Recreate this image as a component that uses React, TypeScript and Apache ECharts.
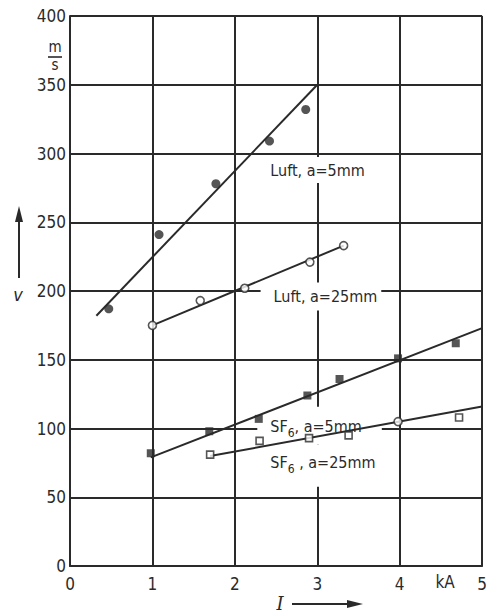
import React, { useEffect, useRef } from "react";
import * as echarts from "echarts";

// ---- data ----
const xTicks = [0, 1, 2, 3, 4, 5];
const yTicks = [0, 50, 100, 150, 200, 250, 300, 350, 400];

const luft5Points = [[0.47, 187], [1.08, 241], [1.77, 278], [2.42, 309], [2.86, 332]];
const luft25Points = [[1.0, 175], [1.58, 193], [2.12, 202], [2.91, 221], [3.32, 233]];
const sf5Points = [[0.98, 82], [1.69, 98], [2.29, 107], [2.88, 124], [3.27, 136], [3.98, 151], [4.68, 162]];
const sf25Points = [[1.7, 81], [2.3, 91], [2.9, 93], [3.38, 95], [4.72, 108]];
const sf25CirclePoints = [[3.98, 105]];

const luft5Fit = [[0.32, 182], [3.0, 350]];
const luft25Fit = [[1.0, 175], [3.32, 233]];
const sf5Fit = [[0.98, 79], [5.0, 173]];
const sf25Fit = [[1.7, 80], [5.0, 116]];

// label anchors (data coords: left edge, vertical centre)
const labelTexts = ["Luft, a=5mm", "Luft, a=25mm", "SF{s|6}, a=5mm", "SF{s|6} , a=25mm"];
const labelAnchors = [[2.43, 288], [2.47, 196], [2.43, 102], [2.43, 73]];

const FONT = "'DejaVu Sans Condensed', 'Liberation Sans Narrow', 'DejaVu Sans', sans-serif";
const INK = "#2a2a2a";

export default function App() {
  const ref = useRef<HTMLDivElement>(null);
  useEffect(() => {
    if (!ref.current) return;
    const chart = echarts.init(ref.current, undefined, { renderer: "svg" });
    const lineSeries = (data: number[][]) => ({
      type: "line",
      data,
      symbol: "none",
      lineStyle: { color: INK, width: 2 },
      z: 3,
    });
    const scatter = (data: number[][], symbol: string, size: number, filled: boolean) => ({
      type: "scatter",
      data,
      symbol,
      symbolSize: size,
      itemStyle: filled
        ? { color: INK, borderColor: INK, borderWidth: 0 }
        : { color: "#fff", borderColor: INK, borderWidth: 1.6 },
      z: 4,
    });
    chart.setOption({
      animation: false,
      backgroundColor: "#fff",
      grid: { left: 70, right: 3, top: 16, bottom: 49 },
      xAxis: {
        type: "value",
        min: xTicks[0],
        max: xTicks[xTicks.length - 1],
        interval: 1,
        axisLine: { show: true, lineStyle: { color: INK, width: 2 } },
        axisTick: { show: false },
        splitLine: { show: true, lineStyle: { color: INK, width: 2 } },
        axisLabel: {
          color: INK,
          fontSize: 17,
          fontFamily: FONT,
          margin: 9,
          showMaxLabel: true,
          showMinLabel: true,
        },
      },
      yAxis: {
        type: "value",
        min: yTicks[0],
        max: yTicks[yTicks.length - 1],
        interval: 50,
        axisLine: { show: true, lineStyle: { color: INK, width: 2 } },
        axisTick: { show: false },
        splitLine: { show: true, lineStyle: { color: INK, width: 2 } },
        axisLabel: { color: INK, fontSize: 17, fontFamily: FONT, margin: 4 },
      },
      series: [
        lineSeries(luft5Fit),
        lineSeries(luft25Fit),
        lineSeries(sf5Fit),
        lineSeries(sf25Fit),
        scatter(luft5Points, "circle", 9, true),
        scatter(luft25Points, "circle", 8, false),
        scatter(sf5Points, "rect", 8, true),
        scatter(sf25Points, "rect", 7, false),
        scatter(sf25CirclePoints, "circle", 8, false),
      ],
    });

    const pads = [
      [5, 6, 5, 4],
      [6, 4, 6, 13],
      [8, 20, 6, 13],
      [6, 8, 12, 13],
    ];
    const labels = labelTexts.map((t, i) => {
      const p = chart.convertToPixel({ gridIndex: 0 }, labelAnchors[i]) as number[];
      return {
        type: "text",
        z: 1,
        x: p[0] - pads[i][3],
        y: p[1],
        style: {
          text: t,
          fontSize: 16,
          fontFamily: FONT,
          fill: INK,
          backgroundColor: "#fff",
          padding: pads[i],
          verticalAlign: "middle",
          align: "left",
          rich: {
            s: { fontSize: 12, fontFamily: FONT, fill: INK, padding: [12, 0, 0, 0] },
          },
        },
      };
    });
    const kA = chart.convertToPixel({ gridIndex: 0 }, [4.55, 0]) as number[];

    chart.setOption({
      graphic: [
        ...labels,
        {
          type: "text",
          z: 5,
          x: kA[0],
          y: kA[1] + 16,
          style: { text: "kA", fontSize: 17, fontFamily: FONT, fill: INK, align: "center", verticalAlign: "middle" },
        },
        // unit m/s
        { type: "text", z: 5, x: 55, y: 47, style: { text: "m", fontSize: 15, fontFamily: FONT, fill: INK, align: "center", verticalAlign: "middle" } },
        { type: "line", z: 5, shape: { x1: 48, y1: 57, x2: 62, y2: 57 }, style: { stroke: INK, lineWidth: 1.6 } },
        { type: "text", z: 5, x: 55, y: 65, style: { text: "s", fontSize: 15, fontFamily: FONT, fill: INK, align: "center", verticalAlign: "middle" } },
        // y axis name v with arrow
        { type: "text", z: 5, x: 18, y: 294, style: { text: "v", fontSize: 18, fontStyle: "italic", fontFamily: FONT, fill: INK, align: "center", verticalAlign: "middle" } },
        { type: "line", z: 5, shape: { x1: 19, y1: 278, x2: 19, y2: 218 }, style: { stroke: INK, lineWidth: 2 } },
        { type: "polygon", z: 5, shape: { points: [[19, 206], [15, 222], [23, 222]] }, style: { fill: INK } },
        // x axis name I with arrow
        { type: "text", z: 5, x: 280, y: 603, style: { text: "I", fontSize: 18, fontStyle: "italic", fontFamily: "'DejaVu Serif', serif", fill: INK, align: "center", verticalAlign: "middle" } },
        { type: "line", z: 5, shape: { x1: 292, y1: 604, x2: 350, y2: 604 }, style: { stroke: INK, lineWidth: 2 } },
        { type: "polygon", z: 5, shape: { points: [[363, 604], [347, 600], [347, 608]] }, style: { fill: INK } },
      ],
    });
    return () => chart.dispose();
  }, []);
  return (
    <div
      ref={ref}
      style={{ position: "fixed", left: 0, top: 0, width: 490, height: 615, background: "#fff" }}
    />
  );
}
